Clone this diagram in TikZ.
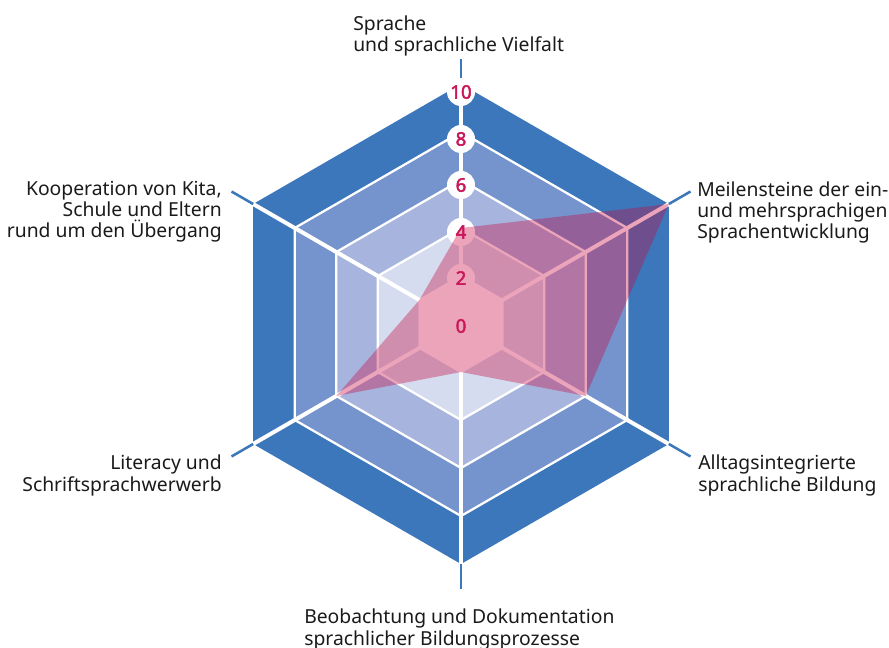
\documentclass[tikz,border=0pt]{standalone}
\usepackage{fontspec}
\setmainfont{Noto Sans}
\newfontfamily\numfont{Noto Sans}[FakeBold=2.5]
\definecolor{bandA}{HTML}{3B77BA}
\definecolor{bandB}{HTML}{7594CD}
\definecolor{bandC}{HTML}{A7B5DE}
\definecolor{bandD}{HTML}{D5DCEF}
\definecolor{numred}{HTML}{C8185A}
\definecolor{datapink}{RGB}{201,9,66}
\definecolor{labeltext}{HTML}{1A1A1A}
\begin{document}
\begin{tikzpicture}[x=0.75pt,y=-0.75pt,
  ring/.style={draw=white,line width=1.7pt,line join=miter},
  spoke/.style={draw=white,line width=3pt},
  axtick/.style={draw=bandA,line width=1.9pt},
  numcircle/.style={circle,fill=white,minimum size=21pt,inner sep=0pt},
  numtext/.style={text=numred,font=\numfont\fontsize{14}{14}\selectfont,inner sep=0pt},
  axlabel/.style={text=labeltext,font=\fontsize{14.5}{16.1}\selectfont,inner sep=0pt},
  datafill/.style={fill=datapink,fill opacity=0.37},
]
\useasboundingbox (0,0) rectangle (889,648);
\begin{scope}[shift={(461,324)}]
  % bands
  \foreach \r/\c in {240/bandA,192/bandB,144/bandC,96/bandD,48/white}{
    \fill[\c] (-90:\r)--(-30:\r)--(30:\r)--(90:\r)--(150:\r)--(210:\r)--cycle;
  }
  % rings
  \foreach \r in {48,96,144,192}{
    \draw[ring] (-90:\r)--(-30:\r)--(30:\r)--(90:\r)--(150:\r)--(210:\r)--cycle;
  }
  % axis coordinates
  \coordinate (c) at (0,0);
  \foreach \a/\n in {-90/N,-30/NE,30/SE,90/S,150/SW,210/NW}{
    \coordinate (v\n) at (\a:240);
    \coordinate (t\n) at (\a:265);
  }
  \foreach \n in {N,NE,SE,S,SW,NW}{
    \draw[spoke] (c) -- (v\n);
    \draw[axtick] (v\n) -- (t\n);
  }
  % number circles
  \foreach \y/\n in {-232/10,-185/8,-139/6,-92/4,-46/2}{
    \node[numcircle] (k\n) at (0,\y) {};
  }
  % data polygon
  \fill[datafill] (-90:96)--(-30:240)--(30:144)--(90:48)--(150:144)--(210:48)--cycle;
  % numbers
  \foreach \y/\n in {-232/10,-185/8,-139/6,-92/4,-46/2,2/0}{
    \node[numtext] (n\n) at (0,\y) {\n};
  }
\end{scope}
% axis labels (anchor = baseline of last line)
\node[axlabel,anchor=base west,align=left] (labN) at (353,52) {Sprache\\und sprachliche Vielfalt};
\node[axlabel,anchor=base west,align=left] (labNE) at (697,239) {Meilensteine der ein-\\und mehrsprachigen\\Sprachentwicklung};
\node[axlabel,anchor=base west,align=left] (labSE) at (698,491) {Alltagsintegrierte\\sprachliche Bildung};
\node[axlabel,anchor=base west,align=left] (labS) at (304,645) {Beobachtung und Dokumentation\\sprachlicher Bildungsprozesse};
\node[axlabel,anchor=base east,align=right] (labSW) at (222,491) {Literacy und\\Schriftsprachwerwerb};
\node[axlabel,anchor=base east,align=right] (labNW) at (222,238) {Kooperation von Kita,\\Schule und Eltern\\rund um den Übergang};
\end{tikzpicture}
\end{document}
